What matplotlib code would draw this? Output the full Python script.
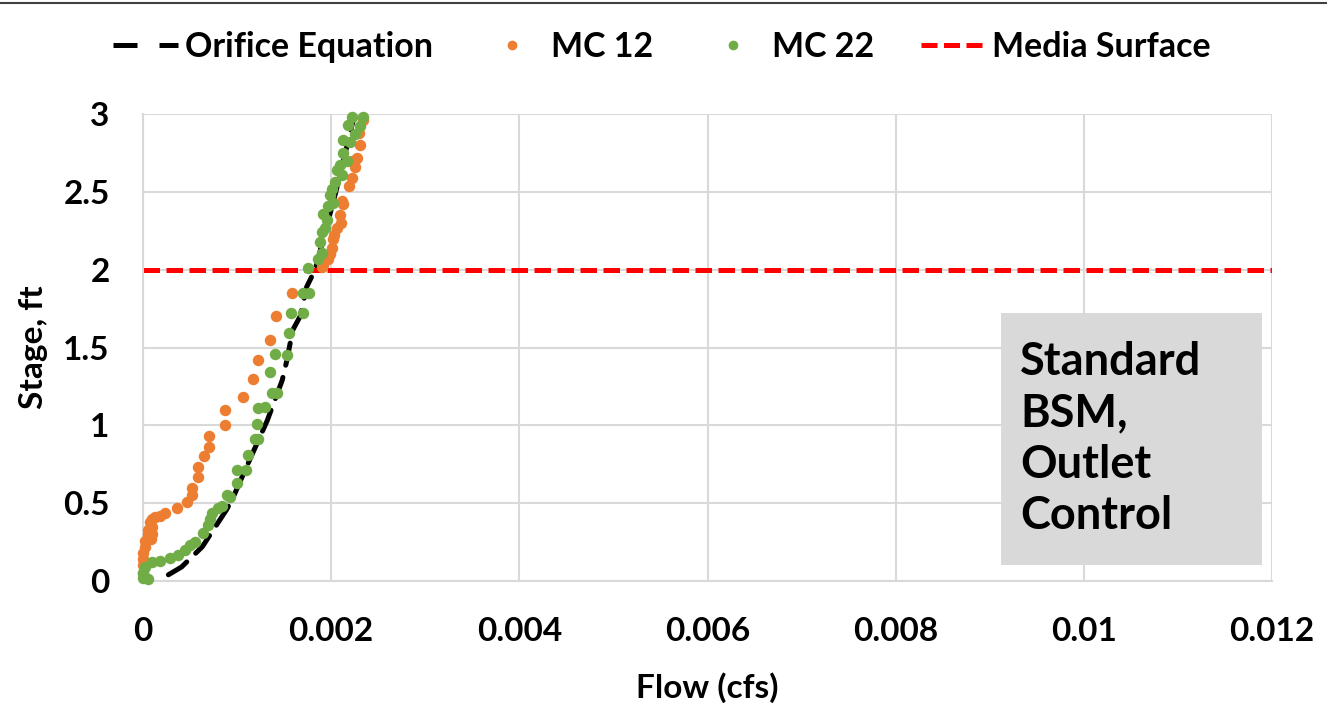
import matplotlib
matplotlib.use("Agg")
import matplotlib.pyplot as plt
from matplotlib.lines import Line2D
from matplotlib.patches import Rectangle

plt.rcParams['font.family'] = ['Lato', 'DejaVu Sans']
plt.rcParams['font.weight'] = 'bold'

# ---- data ----
orifice_x = [0.00027, 0.00041, 0.00063, 0.00089, 0.00096, 0.00112, 0.00132, 0.00148,
             0.00153, 0.00159, 0.00167, 0.00174, 0.00183, 0.00205, 0.00225]
orifice_y = [0.04, 0.09, 0.22, 0.46, 0.54, 0.76, 1.03, 1.29,
             1.42, 1.61, 1.70, 1.89, 2.00, 2.50, 3.00]

mc12_x = [0.0, 0.0, 0.0, 0.0, 0.00002, 0.00002, 0.00005, 0.00005, 0.00008, 0.0001,
          0.0001, 0.00007, 0.0001, 0.00013, 0.00018, 0.00023, 0.00036, 0.00047, 0.00052, 0.00052,
          0.00058, 0.00058, 0.00065, 0.0007, 0.0007, 0.00087, 0.00087, 0.00106, 0.00117, 0.00122,
          0.00135, 0.00141, 0.00158, 0.00191, 0.00197, 0.00201, 0.00202, 0.00206, 0.00209, 0.00213,
          0.00219, 0.00222, 0.00225, 0.00227, 0.00231, 0.00234, 0.0019, 0.00199, 0.00203, 0.0021,
          0.00212, 0.00222, 0.0023]
mc12_y = [0.05, 0.10, 0.14, 0.18, 0.22, 0.26, 0.30, 0.33, 0.27, 0.30,
          0.35, 0.38, 0.40, 0.41, 0.42, 0.44, 0.47, 0.51, 0.55, 0.60,
          0.67, 0.73, 0.80, 0.86, 0.93, 1.00, 1.10, 1.18, 1.30, 1.42,
          1.55, 1.70, 1.85, 2.03, 2.07, 2.14, 2.20, 2.27, 2.35, 2.42,
          2.54, 2.59, 2.66, 2.72, 2.80, 2.96, 2.02, 2.10, 2.22, 2.30,
          2.44, 2.70, 2.88]

mc22_x = [0.00005, 0.0, 0.0, 0.00002, 0.0001, 0.00018, 0.00029, 0.00037, 0.00045, 0.0005,
          0.00055, 0.00064, 0.00069, 0.00071, 0.00073, 0.0008, 0.00084, 0.00089, 0.00092, 0.001,
          0.001, 0.0011, 0.00112, 0.00119, 0.00122, 0.00121, 0.00122, 0.0013, 0.00137, 0.00142,
          0.00135, 0.0014, 0.00153, 0.00155, 0.00157, 0.0017, 0.0017, 0.00176, 0.00175, 0.00186,
          0.0019, 0.00188, 0.0019, 0.00193, 0.00196, 0.00191, 0.00197, 0.00202, 0.00199, 0.00201,
          0.00204, 0.00211, 0.00206, 0.00209, 0.00217, 0.00213, 0.0022, 0.00213, 0.00225, 0.00231,
          0.00218, 0.00222, 0.00234]
mc22_y = [0.01, 0.02, 0.05, 0.09, 0.12, 0.13, 0.15, 0.17, 0.20, 0.23,
          0.25, 0.31, 0.36, 0.40, 0.44, 0.47, 0.48, 0.55, 0.54, 0.63,
          0.71, 0.71, 0.81, 0.91, 0.91, 1.01, 1.11, 1.12, 1.21, 1.21,
          1.34, 1.46, 1.45, 1.59, 1.72, 1.72, 1.85, 1.85, 2.01, 2.07,
          2.11, 2.18, 2.24, 2.27, 2.32, 2.36, 2.41, 2.43, 2.48, 2.52,
          2.56, 2.61, 2.64, 2.67, 2.70, 2.75, 2.82, 2.83, 2.87, 2.92,
          2.93, 2.98, 2.98]

media_surface = 2.0

x_ticks = [0, 0.002, 0.004, 0.006, 0.008, 0.010, 0.012]
x_tick_labels = ["0", "0.002", "0.004", "0.006", "0.008", "0.01", "0.012"]
y_ticks = [0, 0.5, 1, 1.5, 2, 2.5, 3]
y_tick_labels = ["0", "0.5", "1", "1.5", "2", "2.5", "3"]

series_labels = ["Orifice Equation", "MC 12", "MC 22", "Media Surface"]
box_text = "Standard\nBSM,\nOutlet\nControl"

# ---- figure ----
W, H = 1327, 703
fig = plt.figure(figsize=(W / 100, H / 100), dpi=100)
ax = fig.add_axes([143 / W, 1 - 581 / H, (1272 - 143) / W, (581 - 114) / H])

grid_c = '#D9D9D9'
ax.set_xlim(0, 0.012)
ax.set_ylim(0, 3)
ax.set_xticks(x_ticks)
ax.set_xticklabels(x_tick_labels)
ax.set_yticks(y_ticks)
ax.set_yticklabels(y_tick_labels)
ax.grid(True, color=grid_c, linewidth=1.5, zorder=0)
ax.set_axisbelow(True)
for s in ax.spines.values():
    s.set_visible(False)
ax.spines['left'].set_visible(True)
ax.spines['left'].set_color(grid_c)
ax.spines['left'].set_linewidth(1.5)
ax.spines['bottom'].set_visible(True)
ax.spines['bottom'].set_color(grid_c)
ax.spines['bottom'].set_linewidth(1.5)
ax.tick_params(length=0, labelsize=24)
ax.tick_params(axis='x', pad=26)
ax.tick_params(axis='y', pad=24)
for lab in ax.get_xticklabels() + ax.get_yticklabels():
    lab.set_fontweight('bold')

ax.axhline(media_surface, color='#FF0000', linewidth=3.6, dashes=(3.3, 1.3), zorder=2)
ax.plot(orifice_x, orifice_y, color='black', linewidth=3.6, dashes=(4.5, 2.5),
        solid_capstyle='round', dash_capstyle='round', zorder=3)
ax.scatter(mc12_x, mc12_y, s=68, color='#ED7D31', linewidths=0, zorder=4, clip_on=False)
ax.scatter(mc22_x, mc22_y, s=68, color='#70AD47', linewidths=0, zorder=5, clip_on=False)

ax.set_xlabel("Flow (cfs)", fontsize=24, fontweight='bold', labelpad=19)
ax.set_ylabel("Stage, ft", fontsize=24, fontweight='bold', labelpad=11)

# annotation box
ax.add_patch(Rectangle((0.760, 0.034), 0.231, 0.540, transform=ax.transAxes,
                       facecolor='#D9D9D9', edgecolor='none', zorder=6))
ax.text(0.777, 0.304, box_text, transform=ax.transAxes, fontsize=32.5, fontweight='bold',
        va='center', ha='left', linespacing=1.27, zorder=7)

# legend
handles = [
    Line2D([], [], color='black', linewidth=3.6, dashes=(4.8, 4.4)),
    Line2D([], [], color='#ED7D31', marker='o', linestyle='none', markersize=7, markeredgewidth=0),
    Line2D([], [], color='#70AD47', marker='o', linestyle='none', markersize=7, markeredgewidth=0),
    Line2D([], [], color='#FF0000', linewidth=3.6, dashes=(3.2, 1.3)),
]
fig.legend(handles, series_labels, loc='center', bbox_to_anchor=(0.499, 1 - 47 / H), ncol=4,
           frameon=False, prop={'size': 24.5, 'weight': 'bold'}, handlelength=1.9,
           handletextpad=0.2, columnspacing=1.38)

# top border line
fig.add_artist(Line2D([0, 1], [1 - 2.5 / H, 1 - 2.5 / H], transform=fig.transFigure,
                      color='#404040', linewidth=1.5))

fig.savefig("out.png", dpi=100)
